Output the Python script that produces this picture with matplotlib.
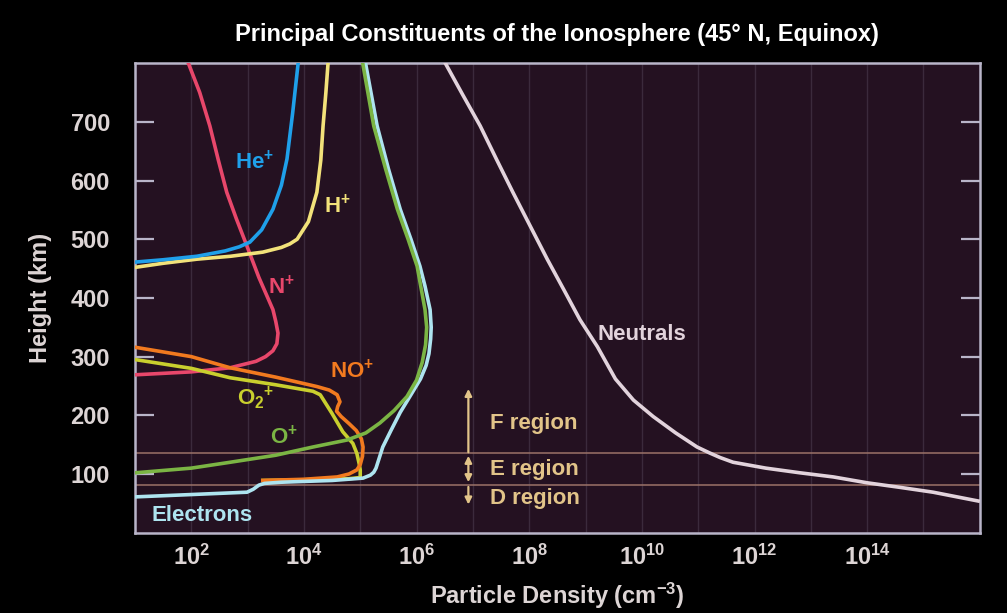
import numpy as np
import matplotlib
matplotlib.use("Agg")
import matplotlib.pyplot as plt
from matplotlib.ticker import FixedLocator

plt.rcParams['font.family'] = ['Liberation Sans', 'DejaVu Sans']
plt.rcParams['font.weight'] = 'bold'
plt.rcParams['mathtext.fontset'] = 'custom'
plt.rcParams['mathtext.rm'] = 'Liberation Sans:bold'
plt.rcParams['mathtext.bf'] = 'Liberation Sans:bold'
plt.rcParams['mathtext.it'] = 'Liberation Sans:bold'

# profiles: log10 density (cm^-3) vs height (km)
electrons_logn = [1.0, 2.0, 2.99, 3.10, 3.20, 3.30, 3.6, 4.5, 5.05, 5.18, 5.24, 5.28, 5.32, 5.40, 5.55,
                  5.71, 5.9, 6.07, 6.17, 6.22, 6.25, 6.26, 6.24, 6.15, 6.06, 5.90, 5.71, 5.50, 5.30, 5.09]
electrons_h = [61, 65, 69, 74, 81, 84, 86, 89, 93, 98, 103, 110, 122, 146, 175,
               205, 235, 262, 285, 305, 330, 350, 380, 420, 454, 500, 551, 620, 693, 802]

oplus_logn = [1.0, 2.0, 2.69, 3.5, 4.16, 4.77, 5.10, 5.35, 5.60, 5.83, 6.0, 6.10, 6.16, 6.18, 6.15, 6.01,
              5.85, 5.66, 5.45, 5.24, 5.04]
oplus_h = [102, 110, 120, 132, 146, 158, 170, 187, 208, 232, 260, 290, 320, 350, 380, 454,
           500, 551, 620, 693, 802]

noplus_logn = [1.0, 2.0, 2.69, 3.5, 4.23, 4.45, 4.59, 4.64, 4.60, 4.58, 4.66, 4.80, 4.93, 5.02, 5.05,
               5.04, 5.0, 4.94, 4.80, 4.59, 4.0, 3.27]
noplus_h = [316, 300, 281, 265, 249, 243, 235, 223, 215, 207, 198, 186, 174, 160, 146,
            130, 116, 107, 100, 95, 91, 89]

o2plus_logn = [1.0, 2.0, 2.69, 3.5, 4.16, 4.29, 4.50, 4.69, 4.87, 4.94, 4.98, 5.0, 5.0, 4.8, 4.46, 3.27]
o2plus_h = [295, 280, 264, 252, 241, 235, 203, 172, 152, 135, 118, 107, 94, 92, 91, 89]

nplus_logn = [1.0, 2.0, 2.69, 3.15, 3.32, 3.45, 3.52, 3.54, 3.50, 3.45, 3.20, 2.99, 2.80, 2.63, 2.48,
              2.33, 2.15, 1.94]
nplus_h = [269, 274, 281, 292, 300, 310, 322, 340, 360, 380, 435, 488, 535, 580, 635, 693, 750, 802]

heplus_logn = [1.0, 1.5, 2.10, 2.6, 2.85, 3.04, 3.25, 3.45, 3.60, 3.70, 3.80, 3.90]
heplus_h = [461, 465, 471, 480, 487, 495, 516, 551, 592, 637, 715, 802]

hplus_logn = [1.0, 1.5, 2.10, 2.7, 3.27, 3.6, 3.75, 3.88, 4.08, 4.23, 4.30, 4.34, 4.39, 4.43]
hplus_h = [452, 459, 466, 471, 478, 486, 492, 500, 530, 580, 635, 693, 750, 802]

neutrals_logn = [6.51, 6.82, 7.13, 7.42, 7.71, 8.02, 8.32, 8.62, 8.90, 9.21, 9.53, 9.85, 10.20, 10.60,
                 10.98, 11.20, 11.39, 11.62, 12.2, 12.81, 13.40, 14.00, 14.6, 15.17, 15.97]
neutrals_h = [800, 746, 693, 636, 580, 522, 466, 413, 363, 317, 262, 226, 198, 170,
              146, 136, 128, 120, 110, 102, 95, 85, 77, 69, 54]

region_bounds_km = [135, 82]

bg = '#000000'
panel = '#241121'
spine = '#b9b5c9'
tick_txt = '#ddd5d5'
tan = '#e2c489'

fig = plt.figure(figsize=(10.07, 6.13), dpi=100, facecolor=bg)
ax = fig.add_axes([0.134, 0.131, 0.839, 0.766])
ax.set_facecolor(panel)
ax.set_xscale('log')
ax.set_xlim(1e1, 1e16)
ax.set_ylim(0, 800)

# decade gridlines
ax.xaxis.set_major_locator(FixedLocator([10.0 ** k for k in range(2, 16, 2)]))
ax.xaxis.set_minor_locator(FixedLocator([10.0 ** k for k in range(1, 17, 2)]))
ax.xaxis.set_major_formatter(plt.FuncFormatter(lambda v, p: r'$\mathbf{10^{%d}}$' % round(np.log10(v))))
ax.xaxis.set_minor_formatter(plt.NullFormatter())
ax.grid(True, axis='x', which='both', color='#3b2a3c', lw=1.0)
ax.set_axisbelow(True)
ax.tick_params(axis='x', which='both', length=0, pad=9, labelsize=17, labelcolor=tick_txt)

ax.set_yticks([100, 200, 300, 400, 500, 600, 700])
ax.tick_params(axis='y', direction='in', length=14, width=1.6, color=spine,
               left=True, right=True, labelsize=17, labelcolor=tick_txt, pad=18)
for lbl in ax.get_yticklabels() + ax.get_xticklabels():
    lbl.set_fontweight('bold')

for s in ax.spines.values():
    s.set_color(spine)
    s.set_linewidth(1.8)

for hb in region_bounds_km:
    ax.axhline(hb, color='#9b7268', lw=1.1, zorder=1)

lw = 2.6
ax.plot(10 ** np.array(neutrals_logn), neutrals_h, color='#e2d3dc', lw=lw, zorder=3)
ax.plot(10 ** np.array(nplus_logn), nplus_h, color='#e8476b', lw=lw, zorder=3)
ax.plot(10 ** np.array(hplus_logn), hplus_h, color='#f2e27a', lw=lw, zorder=3)
ax.plot(10 ** np.array(heplus_logn), heplus_h, color='#1fa0ea', lw=lw, zorder=4)
ax.plot(10 ** np.array(o2plus_logn), o2plus_h, color='#c9cf2e', lw=lw, zorder=4)
ax.plot(10 ** np.array(noplus_logn), noplus_h, color='#f27a1f', lw=lw, zorder=4)
ax.plot(10 ** np.array(electrons_logn), electrons_h, color='#aee4f0', lw=lw, zorder=5)
ax.plot(10 ** np.array(oplus_logn), oplus_h, color='#7bb544', lw=lw, zorder=5)

lab = dict(fontsize=16, fontweight='bold', ha='center', va='center', zorder=6)
ax.text(10 ** 3.12, 630, r'$\mathbf{He^{+}}$', color='#1fa0ea', **lab)
ax.text(10 ** 4.6, 555, r'$\mathbf{H^{+}}$', color='#f2e27a', **lab)
ax.text(10 ** 3.6, 417, r'$\mathbf{N^{+}}$', color='#e8476b', **lab)
ax.text(10 ** 4.85, 275, r'$\mathbf{NO^{+}}$', color='#f27a1f', **lab)
ax.text(10 ** 3.15, 230, r'$\mathbf{O_2{}^{+}}$', color='#c9cf2e', **lab)
ax.text(10 ** 3.65, 162, r'$\mathbf{O^{+}}$', color='#7bb544', **lab)
ax.text(10 ** 2.2, 30, 'Electrons', color='#aee4f0', **lab)
ax.text(10 ** 10.0, 337, 'Neutrals', color='#e2d3dc', **lab)

# ionospheric regions
xa = 10 ** 6.92
arr = dict(color=tan, lw=1.6, shrinkA=0, shrinkB=0, mutation_scale=10)
ax.annotate('', xy=(xa, 245), xytext=(xa, 137), arrowprops=dict(arrowstyle='-|>', **arr))
ax.annotate('', xy=(xa, 131), xytext=(xa, 86), arrowprops=dict(arrowstyle='<|-|>', **arr))
ax.annotate('', xy=(xa, 48), xytext=(xa, 78), arrowprops=dict(arrowstyle='-|>', **arr))
rt = dict(color=tan, fontsize=16, fontweight='bold', ha='left', va='center', zorder=6)
ax.text(10 ** 7.3, 186, 'F region', **rt)
ax.text(10 ** 7.3, 107, 'E region', **rt)
ax.text(10 ** 7.3, 58, 'D region', **rt)

ax.set_ylabel('Height (km)', color=tick_txt, fontsize=17, fontweight='bold')
ax.yaxis.set_label_coords(-0.098, 0.5)
ax.set_xlabel(r'Particle Density (cm$^{\mathbf{-3}}$)', color=tick_txt, fontsize=17, fontweight='bold')
ax.xaxis.set_label_coords(0.5, -0.102)
fig.text(0.553, 0.943, 'Principal Constituents of the Ionosphere (45° N, Equinox)',
         color='white', fontsize=17, fontweight='bold', ha='center', va='center')

fig.savefig('out.png', dpi=100, facecolor=bg)
